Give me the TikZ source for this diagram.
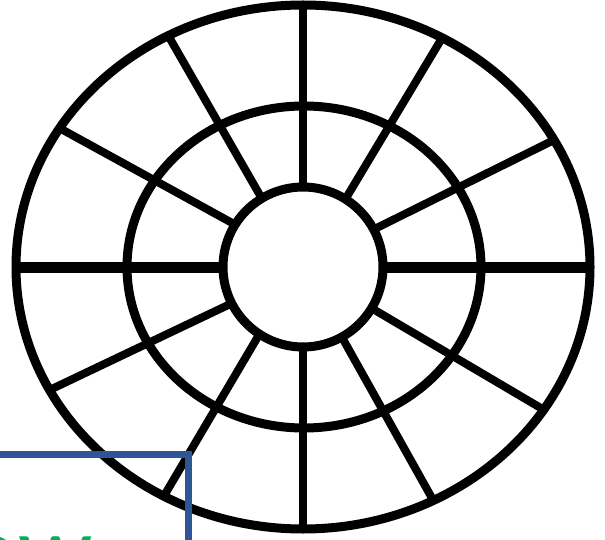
\documentclass[tikz,border=0pt]{standalone}
\usepackage{fontspec}
\newfontfamily\calibri{Carlito}
\definecolor{boxblue}{HTML}{2F5597}
\definecolor{textgreen}{HTML}{00B050}
\begin{document}
\begin{tikzpicture}[x=1pt, y=1pt,
    ring/.style={line width=9pt, black},
    spoke/.style={line width=8pt, black}]
    % 1. frame and centre
    \useasboundingbox (0,0) rectangle (605,539);
    \clip (0,0) rectangle (605,539);
    \coordinate (O) at (303,272);
    % 2. spokes (outer angle / inner angle)
    \begin{scope}[shift={(O)}]
        \foreach \a/\b in {90/90, 270/270, 61/58, 29/28, 118/121, 148/148,
                           208/207, 241/237, 297/299, 327/329}
            \draw[spoke] (\b:80) -- (\a:287 and 262);
        % horizontal spokes are a bit heavier
        \draw[spoke, line width=11pt] (80,0) -- (287,0);
        \draw[spoke, line width=11pt] (-80,0) -- (-287,0);
    \end{scope}
    % 3. rings
    \draw[ring] (O) ellipse [x radius=287, y radius=262];
    \draw[ring] ([xshift=1pt]O) ellipse [x radius=177, y radius=161];
    \draw[ring] (O) circle [radius=80];
    % 4. blue frame and green word, cut by the page edge
    \draw[boxblue, line width=7pt] (-20,85) -| (188,-20);
    \node[anchor=base west, inner sep=0, text=textgreen,
          font=\calibri\fontsize{104}{104}\selectfont] (word) at (-36,-47) {ow};
\end{tikzpicture}
\end{document}
